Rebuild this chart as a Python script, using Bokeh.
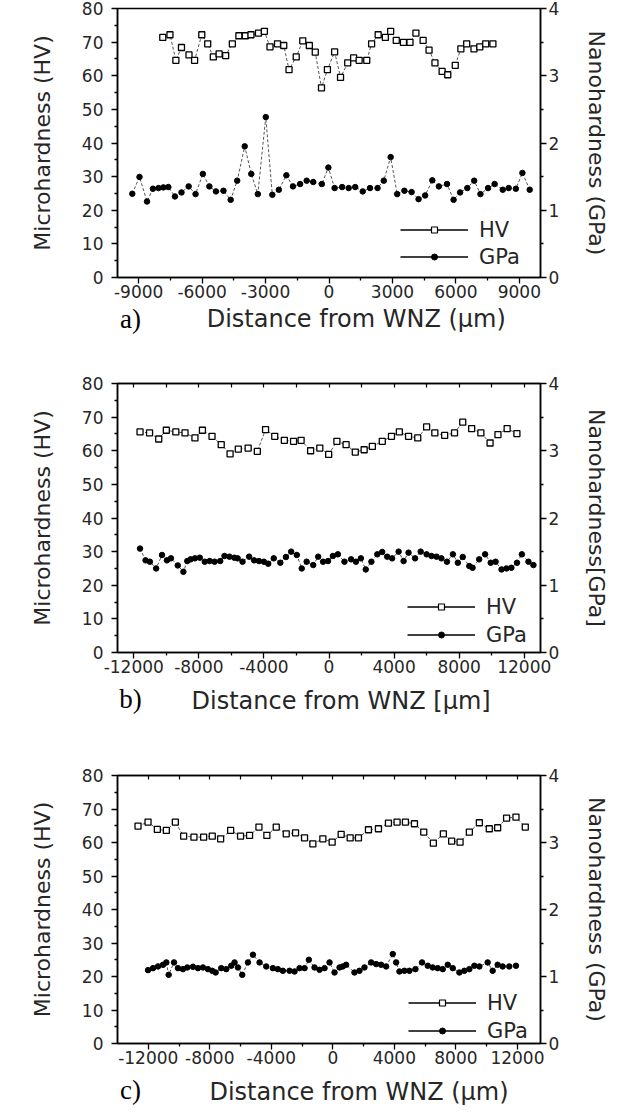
from bokeh.plotting import figure
from bokeh.models import Range1d, LinearAxis, FixedTicker, Legend, LegendItem, Label
from bokeh.layouts import column
from bokeh.embed import file_html
from bokeh.resources import INLINE

# ---------------- data ----------------
# panel a
a_hv_x = [-7860, -7520, -7240, -6975, -6620, -6355, -6015, -5735, -5470, -5195,
          -4885, -4570, -4260, -3955, -3690, -3335, -3055, -2790, -2435, -2140,
          -1890, -1550, -1240, -930, -650, -355, -75, 265, 545, 885,
          1165, 1425, 1785, 2015, 2325, 2665, 2915, 3180, 3520, 3830,
          4110, 4450, 4730, 5010, 5350, 5615, 5970, 6235, 6510, 6855,
          7130, 7410, 7750]
a_hv_y = [71.4, 72.2, 64.6, 68.4, 66.2, 64.6, 72.2, 69.5, 65.6, 66.5,
          66.0, 69.5, 71.9, 71.9, 72.2, 72.7, 73.2, 68.6, 69.5, 69.0,
          61.8, 65.6, 70.4, 69.0, 67.0, 56.4, 61.8, 67.1, 59.5, 63.8,
          65.3, 64.6, 64.6, 69.5, 72.2, 71.4, 73.2, 70.5, 69.9, 69.9,
          72.7, 70.5, 67.6, 63.8, 61.3, 60.3, 63.1, 68.0, 69.5, 68.0,
          68.6, 69.5, 69.5]
a_gpa_x = [-9300, -8960, -8605, -8325, -8060, -7830, -7595, -7285, -6975, -6635,
           -6310, -5965, -5655, -5345, -4990, -4650, -4340, -3985, -3675, -3365,
           -2990, -2680, -2370, -2015, -1705, -1365, -1055, -745, -340, -30,
           265, 620, 930, 1240, 1595, 1940, 2295, 2590, 2915, 3225,
           3565, 3905, 4235, 4545, 4885, 5195, 5580, 5890, 6200, 6540,
           6865, 7160, 7520, 7830, 8215, 8495, 8835, 9145, 9490]
a_gpa_y = [1.245, 1.495, 1.13, 1.32, 1.33, 1.34, 1.345, 1.205, 1.265, 1.355,
           1.24, 1.54, 1.355, 1.28, 1.29, 1.155, 1.44, 1.95, 1.54, 1.24,
           2.385, 1.23, 1.305, 1.52, 1.355, 1.39, 1.44, 1.42, 1.39, 1.635,
           1.33, 1.345, 1.33, 1.345, 1.28, 1.33, 1.33, 1.44, 1.79, 1.24,
           1.29, 1.27, 1.165, 1.22, 1.445, 1.355, 1.39, 1.155, 1.265, 1.33,
           1.44, 1.24, 1.33, 1.39, 1.305, 1.33, 1.32, 1.555, 1.305]

# panel b
b_hv_x = [-11615, -11030, -10465, -10000, -9415, -8850, -8240, -7780, -7190, -6625,
          -6080, -5575, -4970, -4405, -3900, -3335, -2745, -2180, -1715, -1130,
          -565, -20, 485, 1050, 1615, 2160, 2665, 3275, 3840, 4325,
          4890, 5455, 6000, 6505, 7110, 7715, 8220, 8770, 9335, 9900,
          10385, 10950, 11550]
b_hv_y = [65.6, 65.3, 63.5, 66.1, 65.6, 65.3, 63.8, 66.1, 64.3, 61.8,
          59.1, 60.5, 60.8, 59.8, 66.3, 64.3, 63.1, 62.8, 63.1, 60.0,
          60.8, 58.9, 62.8, 61.8, 59.6, 60.3, 61.3, 62.8, 64.3, 65.6,
          64.3, 63.8, 67.1, 65.3, 64.6, 65.3, 68.5, 66.6, 65.3, 62.3,
          64.8, 66.6, 65.1]
b_gpa_x = [-11615, -11275, -11010, -10625, -10265, -9960, -9715, -9295, -8950, -8710,
           -8505, -8240, -7940, -7635, -7335, -7030, -6685, -6425, -6120, -5820,
           -5615, -5315, -4910, -4605, -4305, -4000, -3735, -3395, -2990, -2645,
           -2325, -1980, -1675, -1375, -970, -665, -365, -60, 240, 545,
           950, 1355, 1655, 1960, 2260, 2605, 2970, 3270, 3575, 3880,
           4280, 4585, 4890, 5290, 5635, 6000, 6300, 6605, 6910, 7250,
           7615, 7920, 8220, 8625, 8825, 9230, 9595, 9940, 10240, 10605,
           10910, 11210, 11555, 11855, 12260, 12565]
b_gpa_y = [1.545, 1.37, 1.35, 1.25, 1.45, 1.37, 1.40, 1.295, 1.20, 1.36,
           1.385, 1.40, 1.41, 1.35, 1.36, 1.35, 1.36, 1.435, 1.425, 1.41,
           1.40, 1.35, 1.425, 1.37, 1.36, 1.35, 1.32, 1.40, 1.335, 1.42,
           1.50, 1.45, 1.25, 1.35, 1.30, 1.425, 1.35, 1.36, 1.435, 1.46,
           1.35, 1.385, 1.35, 1.40, 1.235, 1.35, 1.46, 1.495, 1.425, 1.40,
           1.50, 1.36, 1.485, 1.40, 1.50, 1.46, 1.435, 1.425, 1.40, 1.35,
           1.46, 1.335, 1.42, 1.285, 1.26, 1.385, 1.46, 1.335, 1.35, 1.235,
           1.25, 1.26, 1.335, 1.46, 1.35, 1.30]

# panel c
c_hv_x = [-12665, -12015, -11410, -10825, -10240, -9700, -9030, -8400, -7840, -7295,
          -6645, -6000, -5415, -4805, -4290, -3680, -3030, -2425, -1840, -1300,
          -650, -45, 540, 1125, 1665, 2315, 2965, 3615, 4175, 4720,
          5305, 5910, 6535, 7185, 7725, 8270, 8875, 9525, 10170, 10715,
          11295, 11905, 12510]
c_hv_y = [64.9, 66.1, 63.9, 63.6, 66.1, 61.9, 61.6, 61.6, 61.9, 61.1,
          63.6, 61.9, 62.1, 64.6, 62.1, 64.6, 62.6, 62.9, 61.4, 59.6,
          61.1, 60.1, 62.4, 61.4, 61.4, 63.8, 64.1, 65.8, 66.1, 66.1,
          65.6, 63.1, 59.8, 62.6, 60.4, 60.1, 63.1, 65.9, 64.1, 64.4,
          67.3, 67.6, 64.6]
c_gpa_x = [-12015, -11690, -11365, -11040, -10825, -10675, -10325, -10070, -9745, -9460,
           -9095, -8770, -8445, -8120, -7840, -7620, -7255, -6930, -6605, -6390,
           -6170, -5890, -5520, -5195, -4765, -4330, -3900, -3575, -3250, -2815,
           -2490, -2165, -1840, -1560, -1190, -865, -540, -215, 110, 435,
           650, 865, 1405, 1730, 2055, 2490, 2815, 3140, 3465, 3895,
           4115, 4330, 4655, 4980, 5370, 5800, 6170, 6495, 6820, 7145,
           7470, 7795, 8225, 8550, 8875, 9200, 9525, 10065, 10390, 10715,
           11040, 11470, 11905]
c_gpa_y = [1.095, 1.125, 1.15, 1.175, 1.21, 1.025, 1.21, 1.125, 1.11, 1.135,
           1.145, 1.125, 1.135, 1.11, 1.085, 1.06, 1.125, 1.11, 1.16, 1.21,
           1.135, 1.025, 1.21, 1.325, 1.21, 1.15, 1.125, 1.11, 1.085, 1.085,
           1.075, 1.125, 1.125, 1.25, 1.135, 1.10, 1.125, 1.21, 1.06, 1.135,
           1.15, 1.175, 1.06, 1.085, 1.135, 1.21, 1.185, 1.175, 1.15, 1.335,
           1.21, 1.075, 1.085, 1.085, 1.11, 1.21, 1.16, 1.135, 1.125, 1.11,
           1.175, 1.125, 1.06, 1.085, 1.11, 1.16, 1.15, 1.21, 1.085, 1.175,
           1.15, 1.15, 1.16]

# ticks and labels
a_xticks = [-9000, -6000, -3000, 0, 3000, 6000, 9000]
a_xlabels = ["-9000", "-6000", "-3000", "0", "3000", "6000", "9000"]
bc_xticks = [-12000, -8000, -4000, 0, 4000, 8000, 12000]
bc_xlabels = ["-12000", "-8000", "-4000", "0", "4000", "8000", "12000"]
hv_ticks = [0, 10, 20, 30, 40, 50, 60, 70, 80]
hv_labels = ["0", "10", "20", "30", "40", "50", "60", "70", "80"]
gpa_ticks = [0, 1, 2, 3, 4]
gpa_labels = ["0", "1", "2", "3", "4"]

panel_letters = ["a)", "b)", "c)"]
x_titles = ["Distance from WNZ (\u00b5m)", "Distance from WNZ [\u00b5m]", "Distance from WNZ (\u00b5m)"]
y_title = "Microhardness (HV)"
y2_titles = ["Nanohardness (GPa)", "Nanohardness[GPa]", "Nanohardness (GPa)"]
series_names = ["HV", "GPa"]

FONT = "DejaVu Sans"
TXT = "#262626"
OFF = -1.0e9   # legend-key renderers are parked far outside the visible range
W = 613


def mids(t):
    return [(t[i] + t[i + 1]) / 2 for i in range(len(t) - 1)]


def panel(cfg):
    p = figure(width=W, height=cfg["h"], output_backend="svg", toolbar_location=None,
               x_range=Range1d(*cfg["xr"]), y_range=Range1d(0, 80),
               min_border_left=cfg["bl"], min_border_right=cfg["br"],
               min_border_top=cfg["bt"], min_border_bottom=cfg["bb"])
    p.extra_y_ranges = {"gpa": Range1d(0, 4)}
    p.xgrid.visible = False
    p.ygrid.visible = False
    p.outline_line_color = "black"
    p.outline_line_width = 1.5
    p.background_fill_color = "white"

    xt = cfg["xticks"]
    xax = p.xaxis[0]
    xax.ticker = FixedTicker(ticks=xt, minor_ticks=mids(xt))
    xax.major_label_overrides = dict(zip(xt, cfg["xlabels"]))
    yax = p.yaxis[0]
    yax.ticker = FixedTicker(ticks=hv_ticks, minor_ticks=mids(hv_ticks))
    yax.major_label_overrides = dict(zip(hv_ticks, hv_labels))
    yax.axis_label = y_title
    yax.axis_label_standoff = 24

    right = LinearAxis(y_range_name="gpa",
                       ticker=FixedTicker(ticks=gpa_ticks, minor_ticks=mids(gpa_ticks)),
                       axis_label=cfg["y2"], axis_label_standoff=22, major_label_standoff=2)
    right.major_label_overrides = dict(zip(gpa_ticks, gpa_labels))
    p.add_layout(right, "right")
    axes = [xax, yax, right]
    if cfg["top"]:
        top = LinearAxis(ticker=FixedTicker(ticks=xt, minor_ticks=mids(xt)),
                         major_label_text_font_size="0px", major_label_standoff=0,
                         major_tick_in=4, major_tick_out=0, minor_tick_in=4, minor_tick_out=0)
        top.major_label_overrides = {t: "" for t in xt}
        top.axis_line_width = 1.5
        top.major_tick_line_width = 1.2
        top.minor_tick_line_width = 1.2
        p.add_layout(top, "above")
    for ax in axes:
        ax.axis_line_width = 1.5
        ax.major_tick_line_width = 1.3
        ax.minor_tick_line_width = 1.3
        ax.major_tick_in = 0
        ax.major_tick_out = 6
        ax.minor_tick_in = 0
        ax.minor_tick_out = 3
        ax.major_label_text_font = FONT
        ax.major_label_text_font_size = "17px"
        ax.major_label_text_color = TXT
        ax.axis_label_text_font = FONT
        ax.axis_label_text_font_size = "22px"
        ax.axis_label_text_font_style = "normal"
        ax.axis_label_text_color = TXT
    xax.major_label_standoff = 1
    yax.major_label_standoff = 8

    # data
    p.line(cfg["hv_x"], cfg["hv_y"], line_color="#555555", line_width=1, line_dash="3 2")
    p.scatter(cfg["hv_x"], cfg["hv_y"], marker="square", size=6, line_color="black",
              line_width=1.3, fill_color="white")
    p.line(cfg["gpa_x"], cfg["gpa_y"], y_range_name="gpa", line_color="#555555",
           line_width=1, line_dash="3 2")
    p.scatter(cfg["gpa_x"], cfg["gpa_y"], y_range_name="gpa", marker="circle", size=5.5,
              line_color="black", fill_color="black")

    # legend key (solid lines as in the original key)
    l1 = p.line([OFF, OFF + 1], [0, 0], line_color="black", line_width=1.3)
    m1 = p.scatter([OFF], [0], marker="square", size=5, line_color="black", line_width=1.2,
                   fill_color="white")
    l2 = p.line([OFF, OFF + 1], [0, 0], line_color="black", line_width=1.3)
    m2 = p.scatter([OFF], [0], marker="circle", size=8, line_color="black", fill_color="black")
    leg = Legend(items=[LegendItem(label=series_names[0], renderers=[l1, m1]),
                        LegendItem(label=series_names[1], renderers=[l2, m2])],
                 location=cfg["legloc"], glyph_width=68, glyph_height=15, label_height=25,
                 spacing=cfg["legsp"], padding=0, margin=0, label_standoff=11,
                 border_line_alpha=0, background_fill_alpha=0,
                 label_text_font=FONT, label_text_font_size="21px", label_text_color=TXT)
    p.add_layout(leg, "center")
    return p


def strip(cfg):
    # strip under each panel carrying the x-axis title and the panel letter
    h = cfg["sh"]
    s = figure(width=W, height=h, output_backend="svg", toolbar_location=None,
               x_range=Range1d(0, W), y_range=Range1d(h, 0),
               x_axis_type=None, y_axis_type=None, min_border=0)
    s.xgrid.visible = False
    s.ygrid.visible = False
    s.outline_line_color = None
    s.background_fill_color = None
    s.border_fill_color = None
    s.add_layout(Label(x=cfg["xt_pos"][0], y=cfg["xt_pos"][1], text=cfg["xtitle"],
                       text_align="center", text_baseline="middle",
                       text_font=FONT, text_font_size="24px", text_color=TXT))
    s.add_layout(Label(x=cfg["let_pos"][0], y=cfg["let_pos"][1], text=cfg["letter"],
                       text_align="center", text_baseline="middle",
                       text_font="Liberation Serif", text_font_size="27px",
                       text_color="black"))
    return s


cfgs = [
    dict(h=304, bl=110, br=73, bt=8, bb=27, xr=(-10000, 10000), xticks=a_xticks,
         xlabels=a_xlabels, y2=y2_titles[0], top=False,
         hv_x=a_hv_x, hv_y=a_hv_y, gpa_x=a_gpa_x, gpa_y=a_gpa_y,
         legloc=(283, 8), legsp=2, sh=56, xtitle=x_titles[0], xt_pos=(346, 14),
         letter=panel_letters[0], let_pos=(19, 14)),
    dict(h=319, bl=109, br=73, bt=23, bb=27, xr=(-13000, 13000), xticks=bc_xticks,
         xlabels=bc_xlabels, y2=y2_titles[1], top=True,
         hv_x=b_hv_x, hv_y=b_hv_y, gpa_x=b_gpa_x, gpa_y=b_gpa_y,
         legloc=(290, 5), legsp=3, sh=53, xtitle=x_titles[1], xt_pos=(324, 21),
         letter=panel_letters[1], let_pos=(19, 19)),
    dict(h=338, bl=117, br=71, bt=43, bb=27, xr=(-14000, 13500), xticks=bc_xticks,
         xlabels=bc_xlabels, y2=y2_titles[2], top=True,
         hv_x=c_hv_x, hv_y=c_hv_y, gpa_x=c_gpa_x, gpa_y=c_gpa_y,
         legloc=(291, 0), legsp=3, sh=35, xtitle=x_titles[2], xt_pos=(350, 21),
         letter=panel_letters[2], let_pos=(19, 19)),
]

children = []
for c in cfgs:
    children.append(panel(c))
    children.append(strip(c))
layout = column(*children, spacing=0)
open("out.html", "w").write(file_html(layout, INLINE))
